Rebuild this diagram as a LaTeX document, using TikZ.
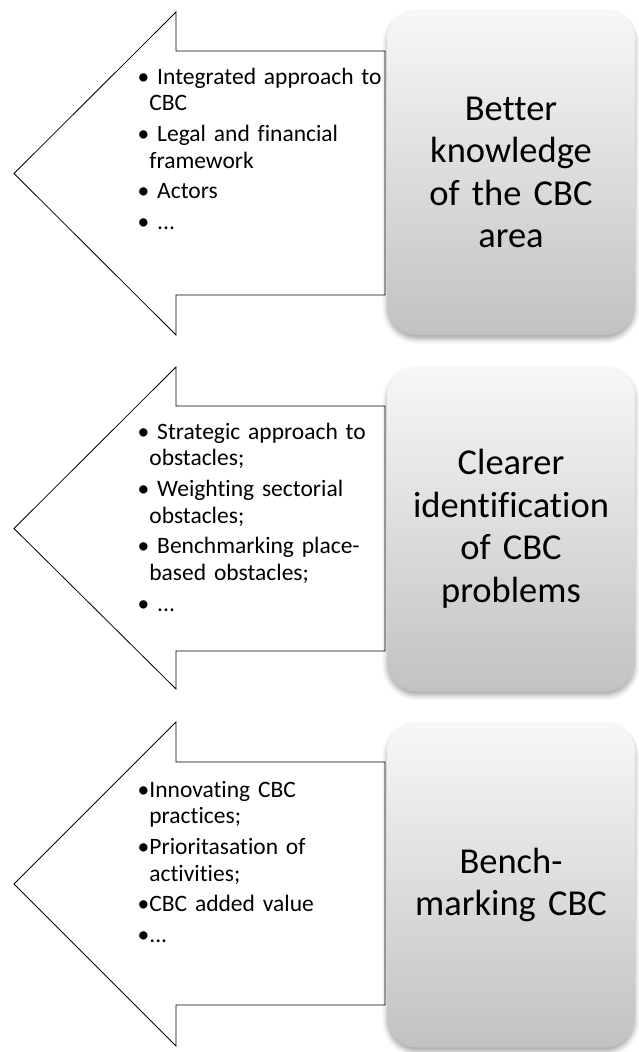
\documentclass[tikz,border=0pt]{standalone}
\usepackage{fontspec}
\setmainfont[Ligatures=NoCommon]{Carlito}
\usetikzlibrary{shadows.blur}

\definecolor{boxtop}{rgb}{0.97,0.97,0.97}
\definecolor{boxbottom}{rgb}{0.76,0.76,0.76}

% one bullet item, later lines hang under the text
\newlength{\bltw}
\newcommand{\blt}[1]{\par\settowidth{\bltw}{\textbullet}\hangindent=\bltw\hangafter=1\noindent\strut\textbullet#1}

\tikzset{
  arrowshape/.style={draw=black, line width=0.8pt, fill=white, line join=miter},
  goalbox/.style={rounded corners=30pt, minimum width=248pt, minimum height=325pt, inner sep=4pt,
    top color=boxtop, bottom color=boxbottom, text width=236pt, align=center,
    font=\fontsize{36.5}{42.5}\selectfont,
    blur shadow={shadow xshift=0pt, shadow yshift=-4pt, shadow blur radius=5pt, shadow opacity=35}},
  itemlist/.style={anchor=north west, inner sep=0pt, text width=250pt, align=left,
    font=\fontsize{23.5}{26.5}\selectfont, execute at begin node={\setlength{\parskip}{4.2pt}}}
}

\begin{document}
\begin{tikzpicture}[x=1pt,y=-1pt]
        \useasboundingbox (0,0) rectangle (638,1052);
        \draw[arrowshape] (14,173.5) -- (176,12) -- (176,51) -- (385,51) -- (385,295) -- (176,295) -- (176,335) -- cycle;       % knowledge
        \draw[arrowshape] (14,528.5) -- (176,367) -- (176,406) -- (385,406) -- (385,651) -- (176,651) -- (176,689) -- cycle;    % problems
        \draw[arrowshape] (14,884) -- (176,722) -- (176,762) -- (385,762) -- (385,1005) -- (176,1005) -- (176,1046) -- cycle;  % benchmarking
        \node[goalbox](know) at (511,172.5) {Better\\knowledge\\of the CBC\\area};
        \node[goalbox](ident) at (511,529) {Clearer\\identification\\of CBC\\problems};
        \node[goalbox](bench) at (511,885) {Bench-\\marking CBC};
        \node[itemlist](knowlist) at (137.5,53.5) {\blt{ Integrated approach to\newline CBC}
          \blt{ Legal and financial\newline framework}
          \blt{ Actors}
          \blt{ ...}};
        \node[itemlist](identlist) at (137.5,408.5) {\blt{ Strategic approach to\newline obstacles;}
          \blt{ Weighting sectorial\newline obstacles;}
          \blt{ Benchmarking place-\newline based obstacles;}
          \blt{ ...}};
        \node[itemlist](benchlist) at (137.5,766.5) {\blt{Innovating CBC\newline practices;}
          \blt{Prioritasation of\newline activities;}
          \blt{CBC added value}
          \blt{...}};

    \end{tikzpicture}
\end{document}
